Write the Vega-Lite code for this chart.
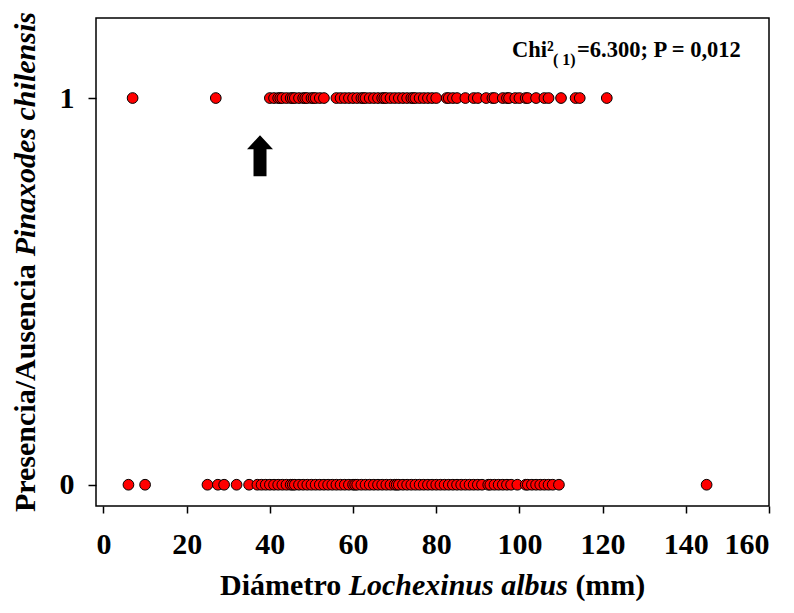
{
  "$schema": "https://vega.github.io/schema/vega-lite/v6.json",
  "width": 673,
  "height": 488,
  "autosize": {"type": "none"},
  "padding": {"left": 96, "top": 18, "right": 25, "bottom": 107},
  "background": "white",
  "config": {
    "view": {"stroke": "black", "strokeWidth": 1.5},
    "font": "Liberation Serif"
  },
  "layer": [
    {
      "data": {"values": [
        {"d": 7, "p": 1}, {"d": 27, "p": 1}, {"d": 40, "p": 1}, {"d": 41, "p": 1}, {"d": 42, "p": 1}, {"d": 42.5, "p": 1}, {"d": 43, "p": 1}, {"d": 44, "p": 1}, {"d": 45, "p": 1}, {"d": 45.5, "p": 1}, {"d": 46, "p": 1}, {"d": 47, "p": 1}, {"d": 48, "p": 1}, {"d": 48.5, "p": 1}, {"d": 49, "p": 1}, {"d": 50, "p": 1}, {"d": 50.5, "p": 1}, {"d": 51, "p": 1}, {"d": 52, "p": 1}, {"d": 53, "p": 1},
        {"d": 56, "p": 1}, {"d": 57, "p": 1}, {"d": 58, "p": 1}, {"d": 59, "p": 1}, {"d": 60, "p": 1}, {"d": 61, "p": 1}, {"d": 62, "p": 1}, {"d": 62.5, "p": 1}, {"d": 63, "p": 1}, {"d": 64, "p": 1}, {"d": 65, "p": 1}, {"d": 66, "p": 1}, {"d": 67, "p": 1}, {"d": 67.5, "p": 1}, {"d": 68, "p": 1}, {"d": 69, "p": 1}, {"d": 70, "p": 1}, {"d": 71, "p": 1}, {"d": 72, "p": 1}, {"d": 73, "p": 1}, {"d": 74, "p": 1}, {"d": 74.5, "p": 1}, {"d": 75, "p": 1}, {"d": 76, "p": 1}, {"d": 77, "p": 1}, {"d": 78, "p": 1}, {"d": 79, "p": 1}, {"d": 80, "p": 1},
        {"d": 82.5, "p": 1}, {"d": 83, "p": 1}, {"d": 84, "p": 1}, {"d": 85, "p": 1}, {"d": 87, "p": 1}, {"d": 89, "p": 1}, {"d": 90, "p": 1}, {"d": 92, "p": 1}, {"d": 93.5, "p": 1}, {"d": 94, "p": 1}, {"d": 96, "p": 1}, {"d": 97, "p": 1}, {"d": 97.5, "p": 1}, {"d": 99, "p": 1}, {"d": 100, "p": 1}, {"d": 101.5, "p": 1}, {"d": 102, "p": 1}, {"d": 104, "p": 1}, {"d": 106, "p": 1}, {"d": 107, "p": 1}, {"d": 110, "p": 1}, {"d": 113.5, "p": 1}, {"d": 114.5, "p": 1}, {"d": 121, "p": 1},
        {"d": 6, "p": 0}, {"d": 10, "p": 0}, {"d": 25, "p": 0}, {"d": 27.5, "p": 0}, {"d": 29, "p": 0}, {"d": 32, "p": 0}, {"d": 35, "p": 0}, {"d": 37, "p": 0}, {"d": 38, "p": 0}, {"d": 39, "p": 0}, {"d": 40, "p": 0}, {"d": 41, "p": 0}, {"d": 42, "p": 0}, {"d": 43, "p": 0}, {"d": 44, "p": 0}, {"d": 45, "p": 0}, {"d": 45.5, "p": 0}, {"d": 46, "p": 0}, {"d": 47, "p": 0}, {"d": 48, "p": 0}, {"d": 49, "p": 0}, {"d": 50, "p": 0}, {"d": 51, "p": 0}, {"d": 52, "p": 0}, {"d": 53, "p": 0}, {"d": 54, "p": 0}, {"d": 55, "p": 0}, {"d": 56, "p": 0}, {"d": 57, "p": 0}, {"d": 58, "p": 0}, {"d": 59, "p": 0}, {"d": 60, "p": 0}, {"d": 60.5, "p": 0}, {"d": 61, "p": 0}, {"d": 62, "p": 0}, {"d": 63, "p": 0}, {"d": 64, "p": 0}, {"d": 65, "p": 0}, {"d": 66, "p": 0}, {"d": 67, "p": 0}, {"d": 68, "p": 0}, {"d": 69, "p": 0}, {"d": 70, "p": 0}, {"d": 70.5, "p": 0}, {"d": 71, "p": 0}, {"d": 72, "p": 0}, {"d": 73, "p": 0}, {"d": 74, "p": 0}, {"d": 75, "p": 0}, {"d": 76, "p": 0}, {"d": 77, "p": 0}, {"d": 78, "p": 0}, {"d": 79, "p": 0}, {"d": 80, "p": 0}, {"d": 81, "p": 0}, {"d": 82, "p": 0}, {"d": 83, "p": 0}, {"d": 84, "p": 0}, {"d": 85, "p": 0}, {"d": 86, "p": 0}, {"d": 87, "p": 0}, {"d": 88, "p": 0}, {"d": 89, "p": 0}, {"d": 90, "p": 0}, {"d": 91, "p": 0}, {"d": 92.5, "p": 0}, {"d": 93, "p": 0}, {"d": 94, "p": 0}, {"d": 95, "p": 0}, {"d": 96, "p": 0}, {"d": 97, "p": 0}, {"d": 98, "p": 0}, {"d": 99.5, "p": 0}, {"d": 101.5, "p": 0}, {"d": 102, "p": 0}, {"d": 103, "p": 0}, {"d": 104, "p": 0}, {"d": 105, "p": 0}, {"d": 106, "p": 0}, {"d": 107, "p": 0}, {"d": 108, "p": 0}, {"d": 109.5, "p": 0}, {"d": 145, "p": 0}
      ]},
      "mark": {"type": "point", "filled": true, "fill": "#FF0000", "stroke": "black", "strokeWidth": 1, "size": 115, "opacity": 1},
      "encoding": {
        "x": {"field": "d", "type": "quantitative", "scale": {"domain": [-1.8, 160], "nice": false, "zero": false}, "axis": {"values": [0, 20, 40, 60, 80, 100, 120, 140, 160], "format": "d", "title": null, "domain": false, "grid": false, "ticks": true, "tickColor": "black", "tickWidth": 1.5, "tickSize": 7, "labelPadding": 16, "labelColor": "black", "labelFont": "Liberation Serif", "labelFontWeight": "bold", "labelFontSize": 30}},
        "y": {"field": "p", "type": "quantitative", "scale": {"domain": [-0.055, 1.207], "nice": false, "zero": false}, "axis": {"values": [0, 1], "format": "d", "title": null, "domain": false, "grid": false, "ticks": true, "tickColor": "black", "tickWidth": 1.5, "tickSize": 8, "labelPadding": 14, "labelColor": "black", "labelFont": "Liberation Serif", "labelFontWeight": "bold", "labelFontSize": 30}}
      }
    },
    {
      "data": {"values": [{}]},
      "mark": {"type": "point", "shape": "M0,-1 L0.634,-0.317 L0.317,-0.317 L0.317,1 L-0.317,1 L-0.317,-0.317 L-0.634,-0.317 Z", "filled": true, "fill": "black", "strokeWidth": 0, "size": 1681, "opacity": 1},
      "encoding": {
        "x": {"datum": 37.63, "type": "quantitative"},
        "y": {"datum": 0.851, "type": "quantitative"}
      }
    },
    {
      "data": {"values": [{}]},
      "mark": {"type": "text", "align": "left", "baseline": "alphabetic", "font": "Liberation Serif", "fontWeight": "bold", "fontSize": 22.5, "color": "black"},
      "encoding": {
        "x": {"datum": 98.2, "type": "quantitative"},
        "y": {"datum": 1.106, "type": "quantitative"},
        "text": {"value": "Chi²"}
      }
    },
    {
      "data": {"values": [{}]},
      "mark": {"type": "text", "align": "left", "baseline": "alphabetic", "font": "Liberation Serif", "fontWeight": "bold", "fontSize": 16, "color": "black"},
      "encoding": {
        "x": {"datum": 108.07, "type": "quantitative"},
        "y": {"datum": 1.0855, "type": "quantitative"},
        "text": {"value": "( 1)"}
      }
    },
    {
      "data": {"values": [{}]},
      "mark": {"type": "text", "align": "left", "baseline": "alphabetic", "font": "Liberation Serif", "fontWeight": "bold", "fontSize": 22.5, "color": "black"},
      "encoding": {
        "x": {"datum": 113.84, "type": "quantitative"},
        "y": {"datum": 1.106, "type": "quantitative"},
        "text": {"value": "=6.300; P = 0,012"}
      }
    },
    {
      "data": {"values": [{}]},
      "mark": {"type": "text", "align": "right", "baseline": "alphabetic", "font": "Liberation Serif", "fontWeight": "bold", "fontSize": 30, "color": "black"},
      "encoding": {
        "x": {"datum": 57.15, "type": "quantitative"},
        "y": {"datum": -0.285, "type": "quantitative"},
        "text": {"value": "Diámetro"}
      }
    },
    {
      "data": {"values": [{}]},
      "mark": {"type": "text", "align": "center", "baseline": "alphabetic", "font": "Liberation Serif", "fontWeight": "bold", "fontStyle": "italic", "fontSize": 30, "color": "black"},
      "encoding": {
        "x": {"datum": 85.3, "type": "quantitative"},
        "y": {"datum": -0.285, "type": "quantitative"},
        "text": {"value": "Lochexinus albus"}
      }
    },
    {
      "data": {"values": [{}]},
      "mark": {"type": "text", "align": "left", "baseline": "alphabetic", "font": "Liberation Serif", "fontWeight": "bold", "fontSize": 30, "color": "black"},
      "encoding": {
        "x": {"datum": 113.45, "type": "quantitative"},
        "y": {"datum": -0.285, "type": "quantitative"},
        "text": {"value": "(mm)"}
      }
    },
    {
      "data": {"values": [{}]},
      "mark": {"type": "text", "align": "left", "baseline": "alphabetic", "angle": 270, "font": "Liberation Serif", "fontWeight": "bold", "fontSize": 30, "color": "black"},
      "encoding": {
        "x": {"datum": -16.47, "type": "quantitative"},
        "y": {"datum": -0.0707, "type": "quantitative"},
        "text": {"value": "Presencia/Ausencia"}
      }
    },
    {
      "data": {"values": [{}]},
      "mark": {"type": "text", "align": "left", "baseline": "alphabetic", "angle": 270, "font": "Liberation Serif", "fontWeight": "bold", "fontStyle": "italic", "fontSize": 30, "color": "black"},
      "encoding": {
        "x": {"datum": -16.47, "type": "quantitative"},
        "y": {"datum": 0.5908, "type": "quantitative"},
        "text": {"value": "Pinaxodes chilensis"}
      }
    }
  ]
}
